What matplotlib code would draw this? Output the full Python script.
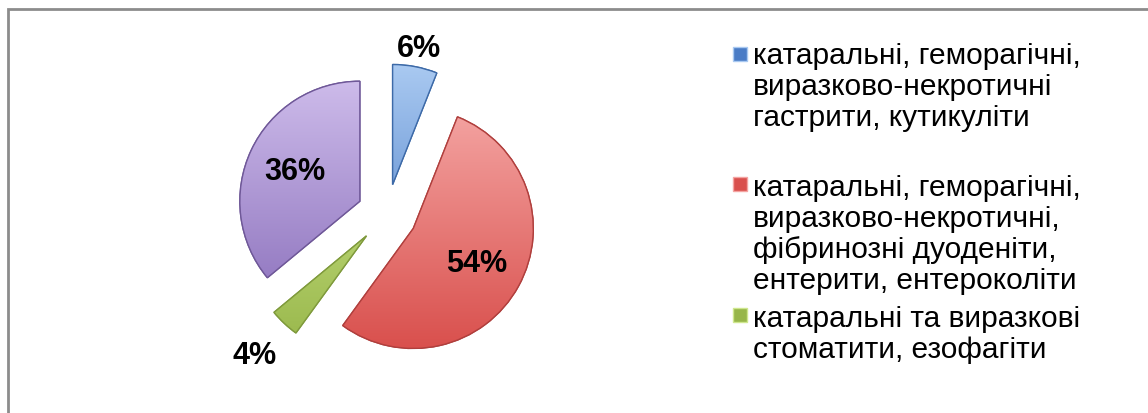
import numpy as np
import matplotlib
matplotlib.use("Agg")
import matplotlib.pyplot as plt
from matplotlib.colors import LinearSegmentedColormap
from matplotlib.patches import Rectangle, PathPatch

# ---- data ----
values = [6, 54, 4, 36]
pct_labels = ["6%", "54%", "4%", "36%"]
legend_labels = [
    "катаральні, геморагічні,\nвиразково-некротичні\nгастрити, кутикуліти",
    "катаральні, геморагічні,\nвиразково-некротичні,\nфібринозні дуоденіти,\nентерити, ентероколіти",
    "катаральні та виразкові\nстоматити, езофагіти",
]

# ---- style ----
light_colors = ["#a9c9f1", "#f4a4a2", "#cfe78e", "#cdbbea"]
dark_colors = ["#4a7cc6", "#d9504d", "#97b649", "#8a6fbb"]
edge_colors = ["#3d6aa8", "#b03f3d", "#7f9a3c", "#6f5898"]
label_dist = [1.16, 0.6, 1.36, 0.6]

W, H = 1148, 414
fig = plt.figure(figsize=(W / 100, H / 100), dpi=100)

# outer frame (only top and left visible)
fig.patches.append(Rectangle((8 / W, -0.2), 1.2, 1.2 - 10 / H,
                             transform=fig.transFigure, fill=False,
                             edgecolor="#8c8c8c", linewidth=2))

cx, cy, R = 387, 215, 120
half = 1.6 * R
ax = fig.add_axes([(cx - half) / W, (H - cy - half) / H, 2 * half / W, 2 * half / H])
ax.set_axis_off()

wedges, _ = ax.pie(values, startangle=90, counterclock=False,
                   explode=[0.25] * len(values), radius=1.0,
                   colors=dark_colors,
                   wedgeprops=dict(linewidth=1.0))

grad = np.linspace(0, 1, 256).reshape(-1, 1)
for i, w in enumerate(wedges):
    w.set_edgecolor(edge_colors[i])
    wx, wy = w.center
    cmap = LinearSegmentedColormap.from_list("g%d" % i, [light_colors[i], dark_colors[i]])
    im = ax.imshow(grad, extent=(wx - 1, wx + 1, wy - 1, wy + 1), origin="upper",
                   cmap=cmap, aspect="auto", zorder=w.get_zorder() + 0.1)
    im.set_clip_path(w)
    ax.add_patch(PathPatch(w.get_path(), fill=False, edgecolor=edge_colors[i],
                           linewidth=1.0, zorder=w.get_zorder() + 0.2))

for i, w in enumerate(wedges):
    mid = np.deg2rad((w.theta1 + w.theta2) / 2.0)
    wx, wy = w.center
    d = label_dist[i]
    ax.text(wx + d * np.cos(mid), wy + d * np.sin(mid), pct_labels[i],
            ha="center", va="center", fontsize=22, fontweight="bold",
            family="Liberation Sans", color="black", zorder=10)

ax.set_xlim(-1.6, 1.6)
ax.set_ylim(-1.6, 1.6)
ax.set_aspect("equal")

# ---- legend (entries: blue, red, green) ----
entry_tops = [42, 174, 305]
marker_centers = [55, 185, 316]
for k in range(len(legend_labels)):
    mc = marker_centers[k]
    fig.patches.append(Rectangle((733 / W, 1 - (mc + 7) / H), 14 / W, 14 / H,
                                 transform=fig.transFigure,
                                 facecolor=dark_colors[k],
                                 edgecolor=light_colors[k], linewidth=1))
    fig.text(753 / W, 1 - entry_tops[k] / H, legend_labels[k], ha="left", va="top",
             fontsize=21.5, family="Liberation Sans", color="black", linespacing=1.13)

fig.savefig("out.png", dpi=100)
